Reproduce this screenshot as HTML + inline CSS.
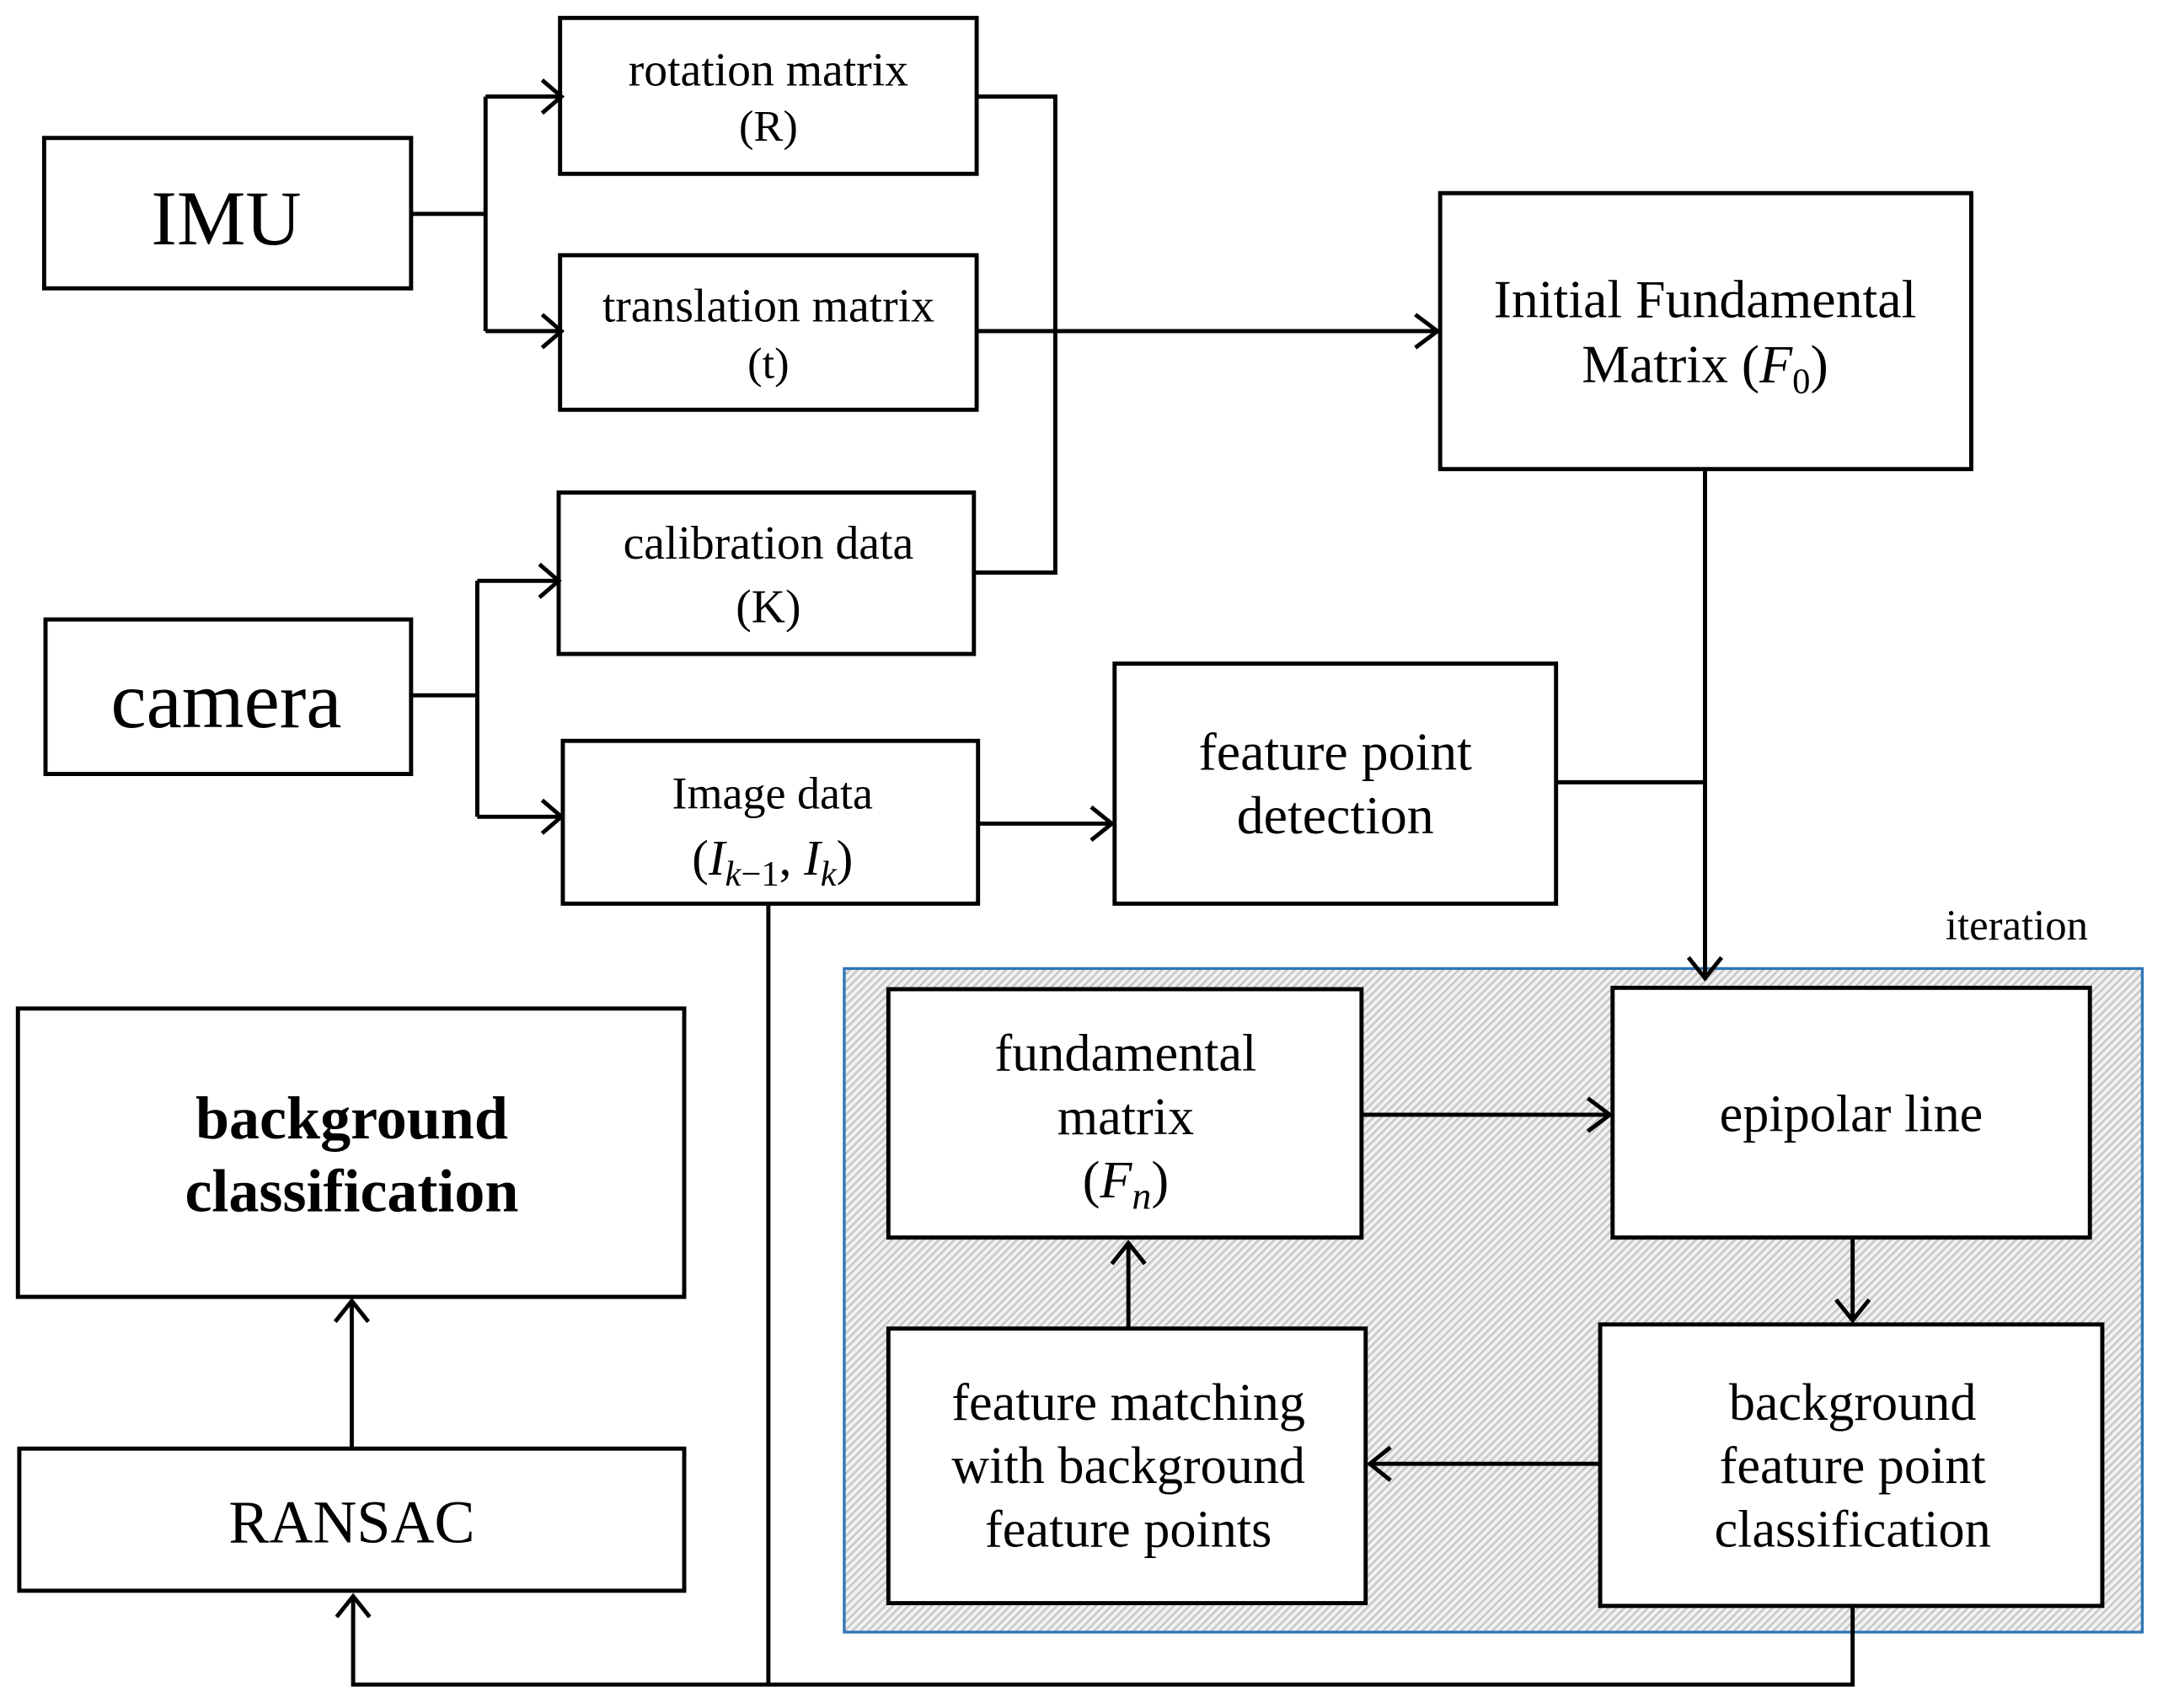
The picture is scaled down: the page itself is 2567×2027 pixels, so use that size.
<!DOCTYPE html>
<html><head><meta charset="utf-8"><style>html,body{margin:0;padding:0;background:#fff}svg{display:block}</style></head><body>
<svg width="2567" height="2027" viewBox="0 0 1568 1238" preserveAspectRatio="none" xmlns="http://www.w3.org/2000/svg" font-family="'Liberation Serif', serif" text-anchor="middle">
<defs>
<pattern id="h" width="4" height="4" patternUnits="userSpaceOnUse" patternTransform="rotate(45)">
<rect width="4" height="4" fill="#f2f2f2"/><rect width="1.6" height="4" fill="#c8c8c8"/>
</pattern>
</defs>
<rect width="1568" height="1238" fill="#fff"/>
<rect x="612" y="702" width="941" height="481" fill="url(#h)" stroke="#2e75b6" stroke-width="2"/>
<text x="1462" y="681" font-size="31">iteration</text>
<g fill="#fff" stroke="#000" stroke-width="3">
<rect x="32" y="100" width="266" height="109"/>
<rect x="406" y="13" width="302" height="113"/>
<rect x="406" y="185" width="302" height="112"/>
<rect x="1044" y="140" width="385" height="200"/>
<rect x="33" y="449" width="265" height="112"/>
<rect x="405" y="357" width="301" height="117"/>
<rect x="408" y="537" width="301" height="118"/>
<rect x="808" y="481" width="320" height="174"/>
<rect x="13" y="731" width="483" height="209"/>
<rect x="14" y="1050" width="482" height="103"/>
<rect x="644" y="717" width="343" height="180"/>
<rect x="1169" y="716" width="346" height="181"/>
<rect x="644" y="963" width="346" height="199"/>
<rect x="1160" y="960" width="364" height="204"/>
</g>
<g fill="none" stroke="#000" stroke-width="3">
<path d="M298 155H352M352 70V240M352 70H405M352 240H405"/>
<path d="M298 504H346M346 421V592M346 421H403M346 592H406"/>
<path d="M708 70H765V415H706M708 240H1040"/>
<path d="M709 597H805"/>
<path d="M1236 340V710M1128 567H1236"/>
<path d="M987 808H1165"/>
<path d="M1343 897V955"/>
<path d="M1160 1061H995"/>
<path d="M818 963V902"/>
<path d="M1343 1164V1221H256V1158M557 655V1221"/>
<path d="M255 1050V944"/>
</g>
<g fill="none" stroke="#000" stroke-width="3">
<path d="M393 58L407 70L393 82M393 228L407 240L393 252M391 409L405 421L391 433M393 580L407 592L393 604M1026 228L1042 240L1026 252M791 585L806 597L791 609M1224 694L1236 709L1248 694M1151 796L1167 808L1151 820M1331 942L1343 957L1355 942M1008 1049L993 1061L1008 1073M806 916L818 901L830 916M244 1172L256 1157L268 1172M243 958L255 943L267 958"/>
</g>
<g fill="#000">
<text x="164" y="177" font-size="56">IMU</text>
<text x="164" y="527" font-size="58">camera</text>
<text x="557" y="62" font-size="34">rotation matrix</text>
<text x="557" y="102" font-size="32">(R)</text>
<text x="557" y="233" font-size="34">translation matrix</text>
<text x="557" y="274" font-size="32">(t)</text>
<text x="557" y="405" font-size="34">calibration data</text>
<text x="557" y="451" font-size="34">(K)</text>
<text x="560" y="586" font-size="33">Image data</text>
<text x="560" y="634" font-size="36">(<tspan font-style="italic">I</tspan><tspan font-size="26" font-style="italic" dy="8">k</tspan><tspan font-size="26" dy="0">−1</tspan><tspan dy="-8">, </tspan><tspan font-style="italic">I</tspan><tspan font-size="26" font-style="italic" dy="8">k</tspan><tspan dy="-8">)</tspan></text>
<text x="1236" y="230" font-size="39">Initial  Fundamental</text>
<text x="1236" y="277" font-size="39">Matrix (<tspan font-style="italic">F</tspan><tspan font-size="26" dy="8">0</tspan><tspan dy="-8">)</tspan></text>
<text x="968" y="558" font-size="39">feature point</text>
<text x="968" y="604" font-size="39">detection</text>
<text x="255" y="825" font-size="44" font-weight="bold">background</text>
<text x="255" y="878" font-size="44" font-weight="bold">classification</text>
<text x="255" y="1118" font-size="44">RANSAC</text>
<text x="816" y="776" font-size="38">fundamental</text>
<text x="816" y="822" font-size="38">matrix</text>
<text x="816" y="868" font-size="38">(<tspan font-style="italic">F</tspan><tspan font-size="28" font-style="italic" dy="8">n</tspan><tspan dy="-8">)</tspan></text>
<text x="1342" y="820" font-size="38">epipolar line</text>
<text x="818" y="1029" font-size="38">feature matching</text>
<text x="818" y="1075" font-size="38">with background</text>
<text x="818" y="1121" font-size="38">feature points</text>
<text x="1343" y="1029" font-size="38">background</text>
<text x="1343" y="1075" font-size="38">feature point</text>
<text x="1343" y="1121" font-size="38">classification</text>
</g>
</svg>
</body></html>
